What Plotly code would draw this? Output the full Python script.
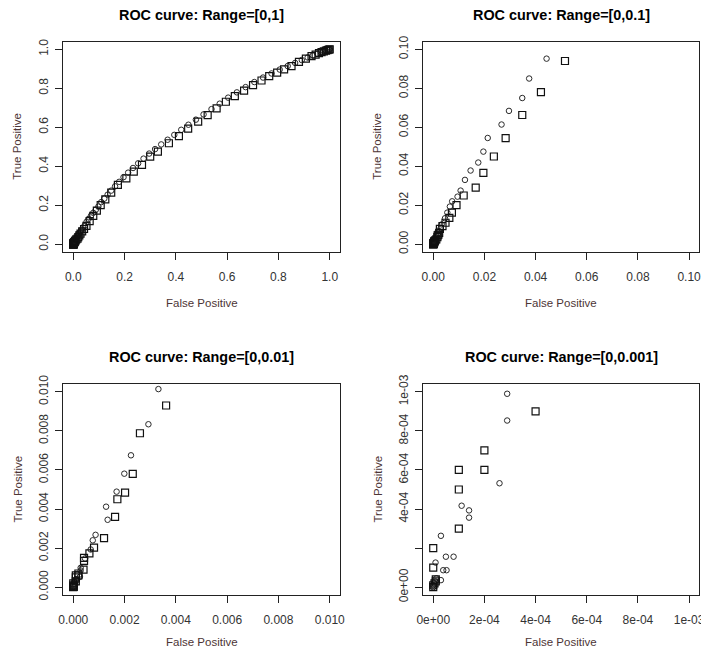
import plotly.graph_objects as go

W, H = 701, 655

# ROC points of classifier A (drawn as squares)
fpr_a = [0, 0, 5e-6, 1e-5, 1e-5, 0, 0, 1e-4, 1e-4, 1e-4, 2e-4, 2e-4, 4e-4,
         0.00042, 0.00042, 0.00063, 0.00081, 0.0012, 0.00163, 0.00172, 0.00202,
         0.00232, 0.0026, 0.00362,
         0.0048, 0.0063, 0.0073, 0.0091, 0.0119, 0.0166, 0.0196, 0.0237, 0.0283,
         0.0348, 0.0421, 0.0515,
         0.064, 0.078, 0.092, 0.107, 0.125, 0.148, 0.174, 0.207, 0.236, 0.268,
         0.300, 0.330, 0.373, 0.412, 0.448, 0.487, 0.524, 0.559, 0.595, 0.630,
         0.666, 0.701, 0.734, 0.764, 0.795, 0.822, 0.851, 0.880, 0.907, 0.929,
         0.945, 0.958, 0.968, 0.977, 0.985, 0.991, 0.996, 1.0]
tpr_a = [0, 1e-5, 2e-5, 3e-5, 4e-5, 1e-4, 2e-4, 3e-4, 5e-4, 6e-4, 6e-4, 7e-4, 9e-4,
         0.00135, 0.0015, 0.00173, 0.00202, 0.00251, 0.0036, 0.0045, 0.00484,
         0.0058, 0.00788, 0.0093,
         0.011, 0.0135, 0.0162, 0.020, 0.025, 0.029, 0.0366, 0.045, 0.0544,
         0.0663, 0.078, 0.094,
         0.118, 0.145, 0.172, 0.200, 0.230, 0.265, 0.304, 0.338, 0.372, 0.407,
         0.449, 0.475, 0.518, 0.555, 0.593, 0.629, 0.662, 0.697, 0.731, 0.760,
         0.788, 0.816, 0.840, 0.862, 0.880, 0.897, 0.914, 0.935, 0.952, 0.965,
         0.973, 0.980, 0.985, 0.989, 0.993, 0.996, 0.998, 1.0]

# ROC points of classifier B (drawn as circles)
fpr_b = [0, 0, 3e-6, 8e-6, 1.2e-5, 3.0e-5, 3.9e-5, 5.2e-5, 9e-6, 4.95e-5, 7.95e-5,
         3.0e-5, 1.4e-4, 1.4e-4, 1.11e-4, 2.59e-4, 2.89e-4, 2.89e-4,
         0.00046, 0.00068, 0.00076, 0.00087, 0.00134, 0.00128, 0.00169, 0.00199,
         0.00225, 0.00293, 0.00332,
         0.0046, 0.0055, 0.0065, 0.0074, 0.0095, 0.0107, 0.0124, 0.0146, 0.0176,
         0.0196, 0.0213, 0.0267, 0.0296, 0.0348, 0.0375, 0.0443,
         0.052, 0.060, 0.069, 0.078, 0.088, 0.098, 0.109, 0.121, 0.134, 0.148,
         0.163, 0.179, 0.196, 0.214, 0.233, 0.253, 0.274, 0.296, 0.319, 0.343,
         0.368, 0.394, 0.421, 0.449, 0.478, 0.508, 0.539, 0.571, 0.604, 0.638,
         0.672, 0.706, 0.740, 0.773, 0.805, 0.836, 0.865, 0.891, 0.914, 0.934,
         0.951, 0.965, 0.976, 0.985, 0.992, 0.997, 1.0]
tpr_b = [0, 1e-5, 2e-5, 3e-5, 4.5e-5, 3.6e-5, 8.7e-5, 8.7e-5, 1.26e-4, 1.56e-4, 1.56e-4,
         2.63e-4, 3.56e-4, 3.93e-4, 4.17e-4, 5.32e-4, 8.53e-4, 9.9e-4,
         0.00147, 0.00193, 0.0024, 0.00268, 0.00345, 0.00412, 0.00489, 0.00581,
         0.00675, 0.00834, 0.01014,
         0.0133, 0.0162, 0.0193, 0.022, 0.0244, 0.0275, 0.033, 0.0378, 0.0419,
         0.0475, 0.0545, 0.0614, 0.0684, 0.075, 0.085, 0.0952,
         0.115, 0.130, 0.146, 0.161, 0.177, 0.193, 0.216, 0.234, 0.254, 0.275,
         0.297, 0.320, 0.344, 0.367, 0.391, 0.415, 0.439, 0.465, 0.488, 0.512,
         0.536, 0.561, 0.587, 0.613, 0.639, 0.666, 0.693, 0.721, 0.752, 0.779,
         0.806, 0.832, 0.855, 0.876, 0.896, 0.914, 0.930, 0.945, 0.958, 0.969,
         0.978, 0.985, 0.990, 0.994, 0.997, 0.999, 1.0]

titles = ["ROC curve: Range=[0,1]", "ROC curve: Range=[0,0.1]",
          "ROC curve: Range=[0,0.01]", "ROC curve: Range=[0,0.001]"]
limits = [1.0, 0.1, 0.01, 0.001]

tick_vals = [
    [0.0, 0.2, 0.4, 0.6, 0.8, 1.0],
    [0.0, 0.02, 0.04, 0.06, 0.08, 0.10],
    [0.0, 0.002, 0.004, 0.006, 0.008, 0.010],
    [0.0, 2e-4, 4e-4, 6e-4, 8e-4, 1e-3],
]
x_tick_text = [
    ["0.0", "0.2", "0.4", "0.6", "0.8", "1.0"],
    ["0.00", "0.02", "0.04", "0.06", "0.08", "0.10"],
    ["0.000", "0.002", "0.004", "0.006", "0.008", "0.010"],
    ["0e+00", "2e-04", "4e-04", "6e-04", "8e-04", "1e-03"],
]
y_tick_text = [
    ["0.0", "0.2", "0.4", "0.6", "0.8", "1.0"],
    ["0.00", "0.02", "0.04", "0.06", "0.08", "0.10"],
    ["0.000", "0.002", "0.004", "0.006", "0.008", "0.010"],
    ["0e+00", "", "4e-04", "6e-04", "8e-04", "1e-03"],
]

# plot boxes in pixels: left, top, right, bottom
boxes = [(63, 41.5, 340, 252), (423, 41.5, 699.3, 252),
         (63, 384, 340, 595), (423, 384, 699.3, 595)]
# distance from box bottom to the x-axis label centre
xlab_gap = [51, 51, 47, 47]

FONT = "Liberation Sans, Arial, sans-serif"
TICK_COLOR = "#333333"
LAB_COLOR = "#4d3535"

fig = go.Figure()
layout = dict(width=W, height=H, margin=dict(l=0, r=0, t=0, b=0),
              paper_bgcolor="white", plot_bgcolor="white", showlegend=False,
              font=dict(family=FONT, size=12, color=TICK_COLOR))
annotations = []

for i in range(4):
    sfx = "" if i == 0 else str(i + 1)
    xa, ya = "x" + sfx, "y" + sfx
    left, top, right, bottom = boxes[i]
    lim = limits[i]
    rng = [-0.04 * lim, 1.04 * lim]
    common = dict(range=rng, showgrid=False, zeroline=False, showline=True,
                  mirror=True, linecolor="#222222", linewidth=1,
                  ticks="outside", ticklen=7, tickwidth=1, tickcolor="#222222",
                  tickmode="array", tickvals=tick_vals[i], automargin=False,
                  ticklabeloverflow="allow",
                  tickfont=dict(family=FONT, size=12, color=TICK_COLOR))
    layout["xaxis" + sfx] = dict(common, domain=[left / W, right / W],
                                 anchor=ya, ticktext=x_tick_text[i],
                                 ticklabelstandoff=7)
    layout["yaxis" + sfx] = dict(common, domain=[1 - bottom / H, 1 - top / H],
                                 anchor=xa, ticktext=y_tick_text[i],
                                 tickangle=-90, ticklabelstandoff=2)

    fig.add_trace(go.Scatter(
        x=fpr_b, y=tpr_b, mode="markers", xaxis=xa, yaxis=ya,
        marker=dict(symbol="circle-open", size=5.5, color="#2a2a2a",
                    line=dict(width=1, color="#2a2a2a"))))
    fig.add_trace(go.Scatter(
        x=fpr_a, y=tpr_a, mode="markers", xaxis=xa, yaxis=ya,
        marker=dict(symbol="square-open", size=7, color="#111111",
                    line=dict(width=1.2, color="#111111"))))

    cx = (left + right) / 2
    # panel title
    annotations.append(dict(
        text=titles[i], x=cx / W, y=1 - (top - 27) / H, xref="paper", yref="paper",
        xanchor="center", yanchor="middle", showarrow=False,
        font=dict(family=FONT, size=14.4, color="black", weight="bold")))
    # x axis label
    annotations.append(dict(
        text="False Positive", x=cx / W, y=1 - (bottom + xlab_gap[i]) / H,
        xref="paper", yref="paper", xanchor="center", yanchor="middle",
        showarrow=False, font=dict(family=FONT, size=11.5, color=LAB_COLOR)))
    # y axis label
    annotations.append(dict(
        text="True Positive", x=(left - 46) / W, y=1 - ((top + bottom) / 2) / H,
        xref="paper", yref="paper", xanchor="center", yanchor="middle",
        textangle=-90, showarrow=False,
        font=dict(family=FONT, size=11.5, color=LAB_COLOR)))

layout["annotations"] = annotations
fig.update_layout(**layout)
fig.write_html("out.html")
